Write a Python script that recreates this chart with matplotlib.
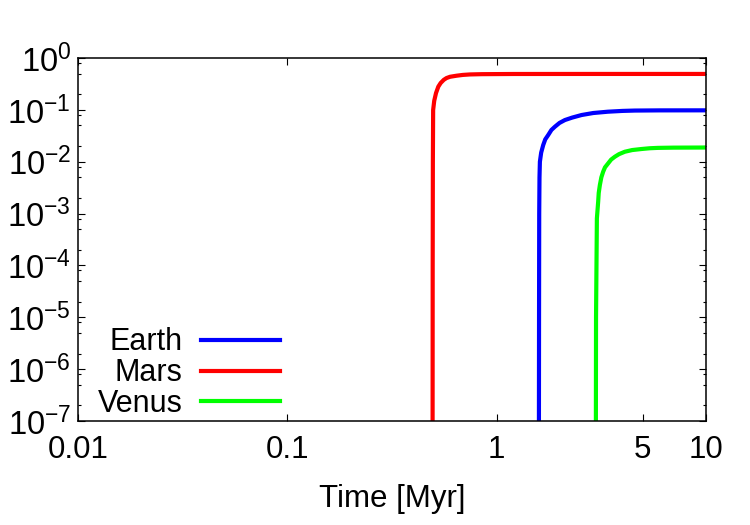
import matplotlib
matplotlib.use("Agg")
import matplotlib.pyplot as plt
from matplotlib.ticker import LogLocator, FixedLocator, FixedFormatter, NullLocator

plt.rcParams['font.family'] = ['Liberation Sans', 'DejaVu Sans']
plt.rcParams['mathtext.fontset'] = 'custom'
plt.rcParams['mathtext.rm'] = 'Liberation Sans'
plt.rcParams['mathtext.it'] = 'Liberation Sans'

# values (time in Myr, fraction)
mars_t = [0.495, 0.4955, 0.4965, 0.498, 0.504, 0.514, 0.527, 0.541, 0.56, 0.577,
          0.60, 0.645, 0.69, 0.746, 0.85, 1.2, 3.0, 10.0]
mars_y = [1e-7, 1e-4, 1e-2, 0.0993, 0.15, 0.211, 0.28, 0.330, 0.38, 0.411,
          0.435, 0.456, 0.472, 0.482, 0.488, 0.492, 0.493, 0.493]

earth_t = [1.595, 1.597, 1.600, 1.605, 1.612, 1.635, 1.672, 1.71, 1.766, 1.83, 1.901,
           2.0, 2.123, 2.3, 2.551, 2.9, 3.405, 4.0, 4.58, 6.0, 10.0]
earth_y = [1e-7, 1e-5, 1e-3, 0.005, 0.0100, 0.015, 0.0210, 0.027, 0.0327, 0.041, 0.0473,
           0.056, 0.0637, 0.071, 0.0796, 0.087, 0.0922, 0.0955, 0.0970, 0.0978, 0.098]

venus_t = [2.985, 2.990, 3.018, 3.061, 3.08, 3.119, 3.17, 3.234, 3.3, 3.418, 3.53,
           3.679, 3.85, 4.107, 4.45, 4.934, 5.4, 5.904, 7.0, 10.0]
venus_y = [1e-7, 1e-5, 8.1e-4, 1.69e-3, 2.5e-3, 3.56e-3, 5.0e-3, 6.42e-3, 7.8e-3, 9.33e-3, 0.011,
           0.0125, 0.014, 0.0156, 0.0168, 0.0176, 0.0182, 0.0185, 0.0187, 0.0188]

xticks = [0.01, 0.1, 1, 5, 10]
xticklabels = ['0.01', '0.1', '1', '5', '10']
yticks = [1e-7, 1e-6, 1e-5, 1e-4, 1e-3, 1e-2, 1e-1, 1e0]
yticklabels = [r'$10^{-7}$', r'$10^{-6}$', r'$10^{-5}$', r'$10^{-4}$',
               r'$10^{-3}$', r'$10^{-2}$', r'$10^{-1}$', r'$10^{0}$']

fig = plt.figure(figsize=(7.5, 5.25), dpi=100)
ax = fig.add_axes([0.104, 0.198, 0.837, 0.6915])

ax.plot(earth_t, earth_y, color='#0000ff', lw=3, label='Earth')
ax.plot(mars_t, mars_y, color='#ff0000', lw=3, label='Mars')
ax.plot(venus_t, venus_y, color='#00ff00', lw=3, label='Venus')

ax.set_xscale('log')
ax.set_yscale('log')
ax.set_xlim(0.01, 10)
ax.set_ylim(1e-7, 1)

ax.xaxis.set_major_locator(FixedLocator(xticks))
ax.xaxis.set_major_formatter(FixedFormatter(xticklabels))
ax.xaxis.set_minor_locator(NullLocator())
ax.yaxis.set_major_locator(FixedLocator(yticks))
ax.yaxis.set_major_formatter(FixedFormatter(yticklabels))
ax.yaxis.set_minor_locator(LogLocator(base=10, subs=(2, 5, 8), numticks=20))

ax.tick_params(which='both', direction='in', top=True, right=True, width=0.8)
ax.tick_params(which='major', length=5)
ax.tick_params(which='minor', length=2.5)
ax.tick_params(axis='x', labelsize=22.5, pad=10)
ax.tick_params(axis='y', labelsize=23.5, pad=5)
for s in ax.spines.values():
    s.set_linewidth(1.1)

ax.set_xlabel('Time [Myr]', fontsize=22.5, labelpad=14)

ax.legend(loc='lower left', bbox_to_anchor=(-0.008, -0.062), frameon=False,
          markerfirst=False, fontsize=22, handlelength=2.6, handletextpad=0.6,
          labelspacing=0.03, borderpad=0.3)

fig.savefig('out.png', dpi=100)
